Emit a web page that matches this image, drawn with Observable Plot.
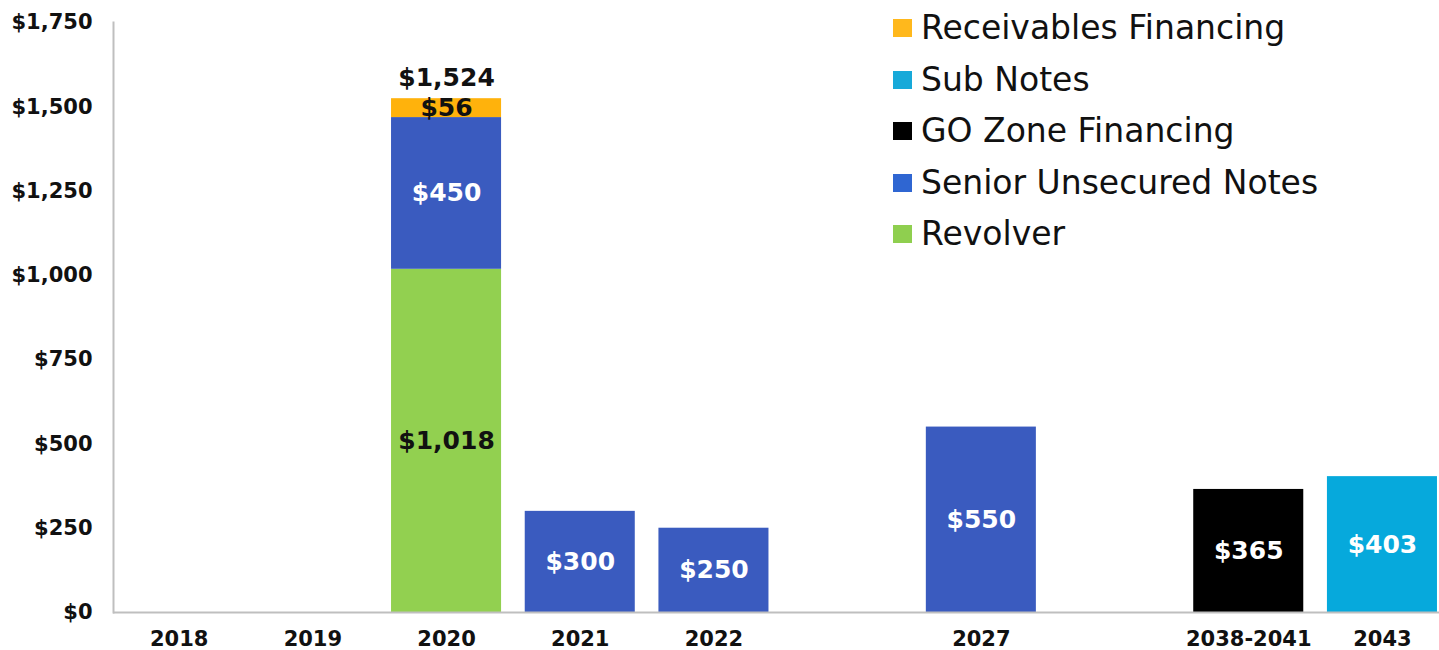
<!DOCTYPE html>
<html>
<head>
<meta charset="utf-8">
<script src="https://cdn.jsdelivr.net/npm/d3@7"></script>
<script src="https://cdn.jsdelivr.net/npm/@observablehq/plot@0.6"></script>
<style>
  html, body { margin: 0; padding: 0; background: #fff; }
  #wrap { position: relative; width: 1439px; height: 650px; font-family: "DejaVu Sans", Verdana, sans-serif; }
  #legend { position: absolute; left: 893px; top: 0; }
  .row { position: absolute; left: 0; display: flex; align-items: center; white-space: nowrap; height: 40px; }
  .sw { width: 19px; height: 18px; margin-right: 9px; }
  .lab { font-size: 33px; color: #111; line-height: 40px; }
</style>
</head>
<body>
<div id="wrap"><div id="legend"></div></div>
<script>
// Periods on the x axis (gap slots keep the spacing of the original)
const periods = ["2018", "2019", "2020", "2021", "2022", "gap1", "2027", "gap2", "2038-2041", "2043"];
// Series, stacking order bottom -> top
const seriesNames = ["Revolver", "Senior Unsecured Notes", "GO Zone Financing", "Sub Notes", "Receivables Financing"];
const seriesColors = ["#92d050", "#3a5bbf", "#000000", "#06a9dc", "#ffb20c"];
// Legend order (top -> bottom)
const legendOrder = ["Receivables Financing", "Sub Notes", "GO Zone Financing", "Senior Unsecured Notes", "Revolver"];
const legendColors = ["#ffb81c", "#17a9d9", "#000000", "#2f66d2", "#8fcf4f"];

// Values ($ millions) per series per period
const revolver = [["2020", 1018]];
const seniorNotes = [["2020", 450], ["2021", 300], ["2022", 250], ["2027", 550]];
const goZone = [["2038-2041", 365]];
const subNotes = [["2043", 403]];
const receivables = [["2020", 56]];

const yTicks = [0, 250, 500, 750, 1000, 1250, 1500, 1750];

const seriesData = [revolver, seniorNotes, goZone, subNotes, receivables];
const data = [];
seriesData.forEach((arr, i) => arr.forEach(([period, value]) => data.push({period, series: seriesNames[i], value})));

// totals shown only where a bar is a stack of several segments
const totals = Array.from(d3.rollup(data, v => ({n: v.length, total: d3.sum(v, d => d.value)}), d => d.period), ([period, o]) => ({period, ...o}))
  .filter(d => d.n > 1);

const money = d => "$" + d3.format(",")(d);
const darkLabel = new Set(["Revolver", "Receivables Financing"]);

const chart = Plot.plot({
  width: 1439,
  height: 650,
  marginLeft: 113,
  marginRight: 0,
  marginTop: 22,
  marginBottom: 38,
  style: {fontFamily: "DejaVu Sans, Verdana, sans-serif", background: "#fff", overflow: "visible"},
  x: {type: "band", domain: periods, range: [111.6, 1449], paddingInner: 0.177, paddingOuter: 0.09, round: false, label: null},
  y: {domain: [0, 1750], label: null},
  color: {domain: seriesNames, range: seriesColors},
  marks: [
    Plot.barY(data, Plot.stackY({x: "period", y: "value", fill: "series", order: seriesNames})),
    Plot.frame({anchor: "left", stroke: "#bfbfbf", strokeWidth: 2}),
    Plot.ruleY([0], {stroke: "#bfbfbf", strokeWidth: 2}),
    Plot.axisY({ticks: yTicks, tickSize: 0, tickPadding: 21, tickFormat: money, fontSize: 21, fontWeight: "bold", fill: "#111", label: null}),
    Plot.axisX({tickSize: 0, tickPadding: 19, tickFormat: d => d.startsWith("gap") ? "" : d, fontSize: 21, fontWeight: "bold", fill: "#111", label: null}),
    Plot.text(data, Plot.stackY({x: "period", y: "value", z: "series", order: seriesNames, text: d => darkLabel.has(d.series) ? "" : money(d.value), fill: "white", fontSize: 25, fontWeight: "bold"})),
    Plot.text(data, Plot.stackY({x: "period", y: "value", z: "series", order: seriesNames, text: d => darkLabel.has(d.series) ? money(d.value) : "", fill: "#111", fontSize: 25, fontWeight: "bold"})),
    Plot.text(totals, {x: "period", y: "total", text: d => money(d.total), dy: -21, fill: "#111", fontSize: 25, fontWeight: "bold"})
  ]
});
document.getElementById("wrap").prepend(chart);

const legend = document.getElementById("legend");
const rowCenters = [28, 80, 131, 183, 234];
legendOrder.forEach((name, i) => {
  const row = document.createElement("div");
  row.className = "row";
  row.style.top = (rowCenters[i] - 20) + "px";
  const sw = document.createElement("div");
  sw.className = "sw";
  sw.style.background = legendColors[i];
  const lab = document.createElement("span");
  lab.className = "lab";
  lab.textContent = name;
  row.append(sw, lab);
  legend.append(row);
});
</script>
</body>
</html>
